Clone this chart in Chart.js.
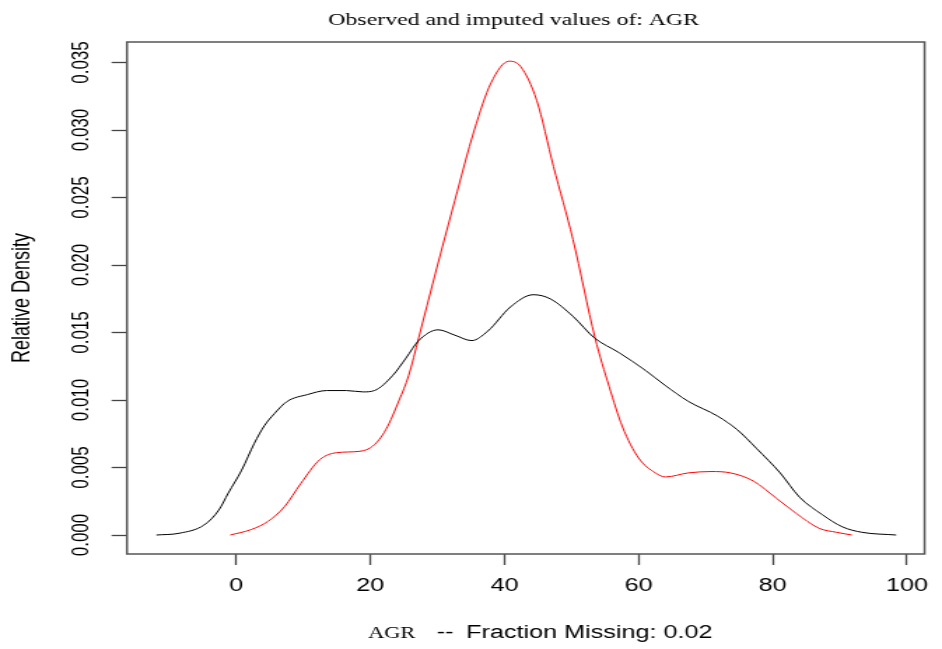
<!DOCTYPE html>
<html>
<head>
<meta charset="utf-8">
<script src="https://cdn.jsdelivr.net/npm/chart.js@4"></script>
<style>
  html, body { margin: 0; padding: 0; background: #fff; }
</style>
</head>
<body>
<!-- the reference is an R plot stretched sideways, so the canvas is drawn narrow and scaled to 942px -->
<canvas id="densityChart" width="673" height="649" style="display:block;width:942px;height:649px"></canvas>
<script>
// --- data ---
const observedX = [-11.9, -8.5, -4.8, -2.6, -1.2, 0.8, 2.7, 4.2, 5.7, 7.6, 10.6, 13.5, 16.4, 18.9, 20.6,
  23.3, 25.3, 27.2, 30.1, 32.6, 35.1, 37.5, 40.9, 44.3, 46.8, 50.2, 53.4, 57.1, 61.0, 63.9,
  67.4, 71.8, 74.7, 77.6, 81.1, 84.0, 87.4, 90.4, 93.3, 98.4];
const observedY = [0, 0.00013, 0.00074, 0.00185, 0.0031, 0.0048, 0.0068, 0.0081, 0.009, 0.0099, 0.0104, 0.0107, 0.0107, 0.0106, 0.0107,
  0.0118, 0.0131, 0.0144, 0.0152, 0.0148, 0.0144, 0.0151, 0.0169, 0.0178, 0.0175, 0.0162, 0.0146, 0.0135, 0.0122, 0.0111,
  0.0099, 0.0088, 0.0078, 0.0064, 0.0046, 0.0028, 0.0015, 0.0006, 0.0002, 0];

const imputedX = [-0.9, 2.2, 4.7, 7.2, 9.6, 12.5, 15.0, 18.4, 20.4, 22.3, 24.3, 25.7, 27.2, 29.7, 32.6,
  35.5, 38.0, 40.7, 42.4, 44.8, 47.3, 50.2, 53.5, 55.6, 57.6, 60.0, 62.5, 64.0, 67.4, 70.8,
  73.7, 77.1, 80.6, 83.5, 86.9, 89.5, 91.8];
const imputedY = [0, 0.0004, 0.001, 0.0021, 0.0038, 0.0056, 0.0061, 0.0062, 0.0066, 0.0078, 0.01, 0.0118, 0.0146, 0.0194, 0.0248,
  0.03, 0.0335, 0.0351, 0.0347, 0.0322, 0.0273, 0.0219, 0.0146, 0.011, 0.008, 0.0057, 0.0046, 0.0043, 0.0046, 0.0047,
  0.0046, 0.004, 0.0027, 0.0016, 0.0005, 0.0002, 0];

const xTicks = [0, 20, 40, 60, 80, 100];
const yTicks = [0, 0.005, 0.01, 0.015, 0.02, 0.025, 0.03, 0.035];
const yTickLabels = ["0.000", "0.005", "0.010", "0.015", "0.020", "0.025", "0.030", "0.035"];

const chartTitle = "Observed and imputed values of: AGR";
const xTitleVar = "AGR";
const xTitleRest = "Fraction Missing: 0.02";
const yTitle = "Relative Density";

const toPoints = (xs, ys) => xs.map((x, i) => ({ x: x, y: ys[i] }));

// R style decorations: box, rotated y labels, titles
const rDecorations = {
  id: "rDecorations",
  afterDraw(chart) {
    const { ctx, chartArea: a, scales } = chart;
    ctx.save();
    ctx.strokeStyle = "#555";
    ctx.lineWidth = 1.5;
    ctx.strokeRect(a.left, a.top, a.right - a.left, a.bottom - a.top);

    ctx.fillStyle = "#000";
    ctx.font = "17px 'Liberation Sans', Arial, sans-serif";
    ctx.textAlign = "center";
    ctx.textBaseline = "middle";
    yTicks.forEach((v, i) => {
      const py = scales.y.getPixelForValue(v);
      ctx.save();
      ctx.translate(58.6, py);
      ctx.rotate(-Math.PI / 2);
      ctx.fillText(yTickLabels[i], 0, 0);
      ctx.restore();
    });

    ctx.save();
    ctx.font = "18px 'Liberation Sans', Arial, sans-serif";
    ctx.translate(15.7, (a.top + a.bottom) / 2);
    ctx.rotate(-Math.PI / 2);
    ctx.fillText(yTitle, 0, 0);
    ctx.restore();

    ctx.textBaseline = "alphabetic";
    ctx.font = "17px 'Liberation Serif', 'Times New Roman', serif";
    ctx.fillText(chartTitle, 367, 25);

    ctx.textAlign = "left";
    ctx.font = "16px 'Liberation Serif', 'Times New Roman', serif";
    ctx.fillText(xTitleVar, 263, 638);
    ctx.font = "18px 'Liberation Sans', Arial, sans-serif";
    ctx.fillText("--", 312, 638);
    ctx.fillText(xTitleRest, 333, 638);
    ctx.restore();
  },
};

new Chart(document.getElementById("densityChart"), {
  type: "line",
  data: {
    datasets: [
      {
        label: "Observed",
        data: toPoints(observedX, observedY),
        borderColor: "#000",
        borderWidth: 1,
        pointRadius: 0,
        cubicInterpolationMode: "monotone",
      },
      {
        label: "Imputed",
        data: toPoints(imputedX, imputedY),
        borderColor: "#ff0000",
        borderWidth: 1,
        pointRadius: 0,
        cubicInterpolationMode: "monotone",
      },
    ],
  },
  options: {
    responsive: false,
    animation: false,
    layout: { padding: { left: 0, top: 42, right: 3.6, bottom: 0 } },
    plugins: {
      legend: { display: false },
      tooltip: { enabled: false },
    },
    scales: {
      x: {
        type: "linear",
        min: -16.3,
        max: 102.64,
        afterBuildTicks: (s) => { s.ticks = xTicks.map((v) => ({ value: v })); },
        afterFit: (s) => { s.height = 95; },
        grid: { drawOnChartArea: false, tickLength: 11, color: "#444", tickWidth: 1.3 },
        border: { display: false },
        ticks: {
          color: "#000",
          font: { family: "'Liberation Sans', Arial, sans-serif", size: 18 },
          padding: 10,
          maxRotation: 0,
        },
      },
      y: {
        min: -0.001407,
        max: 0.036519,
        afterBuildTicks: (s) => { s.ticks = yTicks.map((v) => ({ value: v })); },
        afterFit: (s) => { s.width = 90.7; },
        grid: { drawOnChartArea: false, tickLength: 11, color: "#444", tickWidth: 1.3 },
        border: { display: false },
        ticks: { display: false },
      },
    },
  },
  plugins: [rDecorations],
});
</script>
</body>
</html>
